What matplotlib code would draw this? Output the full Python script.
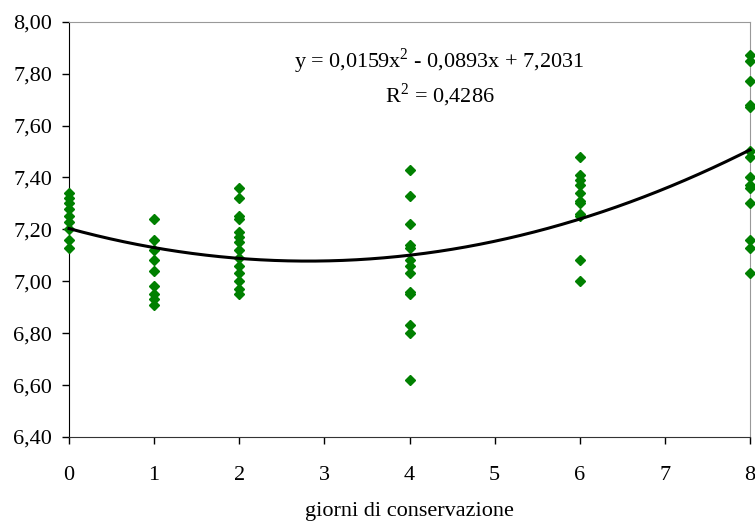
import matplotlib
matplotlib.use("Agg")
import matplotlib.pyplot as plt
import numpy as np
from matplotlib.ticker import FuncFormatter

plt.rcParams['font.family'] = ['Liberation Serif', 'DejaVu Serif']
plt.rcParams['mathtext.fontset'] = 'custom'
plt.rcParams['mathtext.rm'] = 'Liberation Serif'

day0 = [7.34, 7.32, 7.30, 7.28, 7.25, 7.23, 7.20, 7.16, 7.13]
day1 = [7.24, 7.16, 7.12, 7.08, 7.04, 6.98, 6.95, 6.93, 6.91]
day2 = [7.36, 7.32, 7.25, 7.24, 7.19, 7.17, 7.15, 7.12, 7.09, 7.06, 7.03, 7.00, 6.97, 6.95]
day4 = [7.43, 7.33, 7.22, 7.14, 7.13, 7.08, 7.06, 7.03, 6.96, 6.95, 6.83, 6.80, 6.62]
day6 = [7.48, 7.41, 7.39, 7.37, 7.34, 7.31, 7.30, 7.26, 7.25, 7.08, 7.00]
day8 = [7.87, 7.85, 7.77, 7.68, 7.67, 7.50, 7.48, 7.40, 7.37, 7.36, 7.30, 7.16, 7.13, 7.03]
days = [0, 1, 2, 4, 6, 8]
groups = [day0, day1, day2, day4, day6, day8]
coef = [0.0159, -0.0893, 7.2031]
eq_text = "y = 0,0159x$^2$ - 0,0893x + 7,2031"
r2_text = "R$^2$ = 0,4286"
xlabel = "giorni di conservazione"

fig = plt.figure(figsize=(7.55, 5.25), dpi=100)
ax = fig.add_axes([0.0914, 0.1676, 0.9020, 0.7911])

for d, g in zip(days, groups):
    ax.plot([d] * len(g), g, linestyle='none', marker='D', ms=5.5,
            color='#008000', clip_on=False, zorder=3)

xs = np.linspace(0, 8, 200)
ax.plot(xs, np.polyval(coef, xs), color='black', lw=2.2, zorder=4, clip_on=False)

ax.set_xlim(0, 8)
ax.set_ylim(6.4, 8.0)
ax.set_xticks(range(0, 9))
ax.set_yticks(np.arange(6.4, 8.01, 0.2))
ax.yaxis.set_major_formatter(FuncFormatter(lambda v, p: f"{v:.2f}".replace('.', ',')))
ax.tick_params(direction='out', length=5, width=1, labelsize=16)
ax.tick_params(axis='y', pad=7)
ax.tick_params(axis='x', pad=16)
ax.spines['left'].set_color('black')
ax.spines['bottom'].set_color('#333333')
for s in ['top', 'right']:
    ax.spines[s].set_color('#999999')
ax.set_xlabel(xlabel, fontsize=16, labelpad=12)

txt = dict(fontsize=16, ha='center', va='center', transform=ax.transAxes)
ax.text(0.543, 0.905, eq_text, **txt)
ax.text(0.545, 0.823, r2_text, **txt)

fig.savefig("out.png", dpi=100)
